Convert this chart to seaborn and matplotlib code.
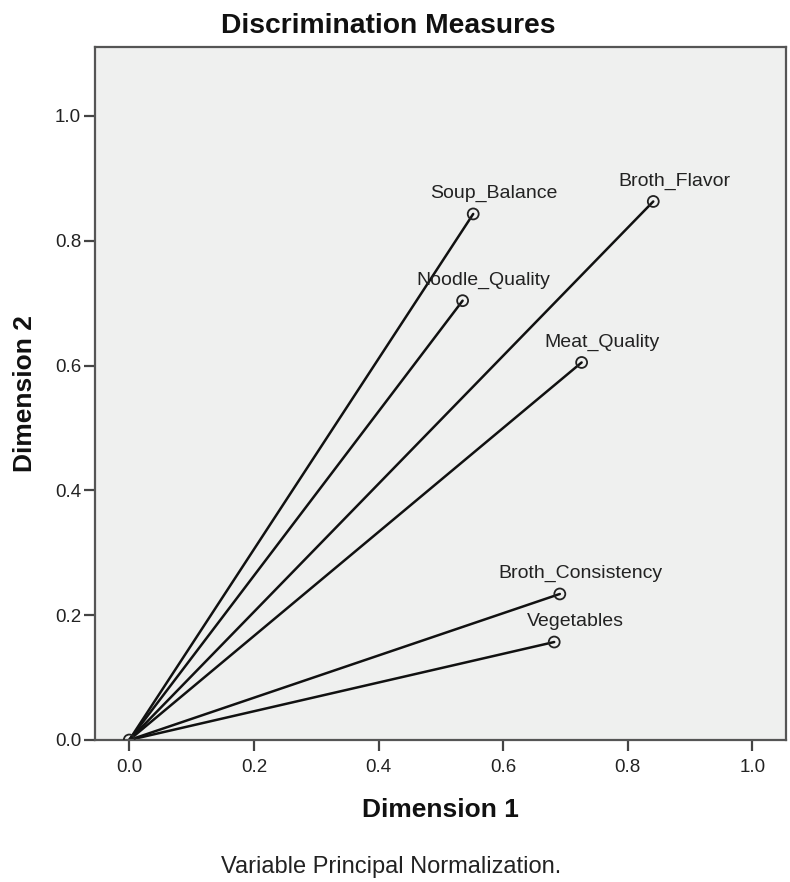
import matplotlib
matplotlib.use("Agg")
import matplotlib.pyplot as plt
import seaborn as sns
import pandas as pd

# Data
variables = ["Soup_Balance", "Broth_Flavor", "Noodle_Quality", "Meat_Quality",
             "Broth_Consistency", "Vegetables"]
dim1 = [0.552, 0.841, 0.535, 0.726, 0.691, 0.682]
dim2 = [0.843, 0.863, 0.704, 0.605, 0.234, 0.157]
x_ticks = [0.0, 0.2, 0.4, 0.6, 0.8, 1.0]
y_ticks = [0.0, 0.2, 0.4, 0.6, 0.8, 1.0]

sns.set_theme(style="white")
plt.rcParams["font.family"] = ["Liberation Sans", "DejaVu Sans"]

# long table: origin + endpoint per variable
rows = []
for v, a, b in zip(variables, dim1, dim2):
    rows.append({"var": v, "Dimension 1": 0.0, "Dimension 2": 0.0})
    rows.append({"var": v, "Dimension 1": a, "Dimension 2": b})
lines = pd.DataFrame(rows)
points = pd.DataFrame({"var": variables, "Dimension 1": dim1, "Dimension 2": dim2})
origin = pd.DataFrame({"Dimension 1": [0.0], "Dimension 2": [0.0]})

fig = plt.figure(figsize=(7.9, 8.82), dpi=100)
ax = fig.add_axes([95 / 790, (882 - 740) / 882, (786 - 95) / 790, (740 - 46.7) / 882])
ax.set_facecolor("#EFF0EF")

sns.lineplot(data=lines, x="Dimension 1", y="Dimension 2", units="var",
             estimator=None, sort=False, color="#111111", lw=1.8, ax=ax,
             legend=False)
sns.scatterplot(data=points, x="Dimension 1", y="Dimension 2", ax=ax,
                marker="o", s=62, facecolor="none", edgecolor="#222222",
                linewidth=1.3, zorder=3, legend=False)
sns.scatterplot(data=origin, x="Dimension 1", y="Dimension 2", ax=ax,
                marker="o", s=62, facecolor="none", edgecolor="#222222",
                linewidth=1.3, zorder=3, legend=False)

for v, a, b in zip(variables, dim1, dim2):
    ax.annotate(v, (a, b), xytext=(15, 11.5), textcoords="offset points",
                ha="center", va="baseline", fontsize=14, color="#222222")

ax.set_xlim(-0.055, 1.054)
ax.set_ylim(0.0, 1.111)
ax.set_xticks(x_ticks)
ax.set_yticks(y_ticks)
ax.set_xticklabels([f"{t:.1f}" for t in x_ticks])
ax.set_yticklabels([f"{t:.1f}" for t in y_ticks])
ax.tick_params(axis="both", direction="out", length=8, width=1.6,
               color="#444444", labelsize=13.5, labelcolor="#222222",
               bottom=True, left=True)
ax.tick_params(axis="x", pad=6)
ax.tick_params(axis="y", pad=2)
for s in ax.spines.values():
    s.set_visible(True)
    s.set_color("#555555")
    s.set_linewidth(1.6)

ax.set_xlabel("Dimension 1", fontsize=19, fontweight="bold", color="#111111",
              va="baseline")
ax.xaxis.set_label_coords(0.5, -0.111)
ax.set_ylabel("Dimension 2", fontsize=19, fontweight="bold", color="#111111",
              va="center")
ax.yaxis.set_label_coords(-0.102, 0.5)

fig.text(388 / 790, 1 - 33 / 882, "Discrimination Measures", ha="center",
         va="baseline", fontsize=20.3, fontweight="bold", color="#111111")
fig.text(391 / 790, 1 - 873 / 882, "Variable Principal Normalization.",
         ha="center", va="baseline", fontsize=17, color="#222222")

fig.savefig("out.png", dpi=100, facecolor="white")
